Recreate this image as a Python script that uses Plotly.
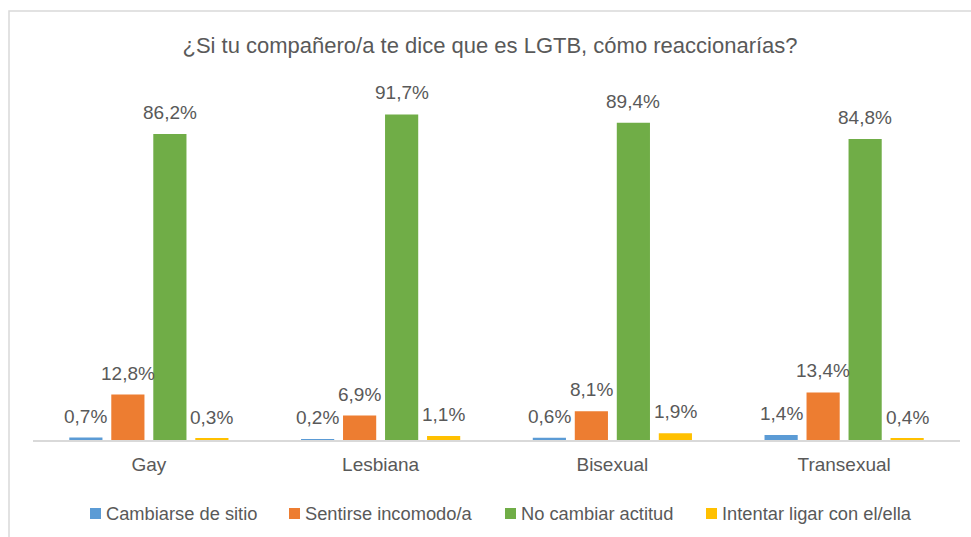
import plotly.graph_objects as go

# Survey results: reaction when a classmate comes out, by identity
categories = ["Gay", "Lesbiana", "Bisexual", "Transexual"]
series_names = ["Cambiarse de sitio", "Sentirse incomodo/a", "No cambiar actitud", "Intentar ligar con el/ella"]
cambiarse = [0.7, 0.2, 0.6, 1.4]
incomodo = [12.8, 6.9, 8.1, 13.4]
no_cambiar = [86.2, 91.7, 89.4, 84.8]
ligar = [0.3, 1.1, 1.9, 0.4]

values = [cambiarse, incomodo, no_cambiar, ligar]
colors = ["#5B9BD5", "#ED7D31", "#70AD47", "#FFC000"]
text_color = "#595959"
font_family = "Liberation Sans, Arial, sans-serif"

W, H = 971, 537
ml, mr, mt, mb = 33, 11, 85, 97
plot_w = W - ml - mr
plot_h = H - mt - mb
bargap = 0.275
bargroupgap = 0.21

fig = go.Figure()
for name, vals, col in zip(series_names, values, colors):
    fig.add_trace(go.Bar(
        x=categories, y=vals, name=name,
        marker=dict(color=col, line=dict(width=0)),
        hoverinfo="skip", showlegend=False,
    ))

# value labels above each bar (pixel offsets of each bar within its group)
cat_w = plot_w / len(categories)
slot = cat_w * (1 - bargap) / len(values)
annotations = []
for i, vals in enumerate(values):
    xshift = (i - (len(values) - 1) / 2) * slot
    for c, v in zip(categories, vals):
        annotations.append(dict(
            x=c, y=v, xref="x", yref="y",
            text=f"{v:.1f}".replace(".", ",") + "%",
            showarrow=False, xshift=xshift, yshift=9,
            yanchor="bottom", xanchor="center",
            font=dict(size=19, color=text_color, family=font_family),
        ))

def px_x(p):
    return (p - ml) / plot_w

def px_y(p):
    return (H - mb - p) / plot_h

# legend drawn as coloured squares with labels in one row under the axis
legend_left = [90, 289, 505, 706]
legend_mid = 513.5
sq = 11
shapes = [dict(
    type="rect", xref="paper", yref="paper",
    x0=px_x(9), x1=px_x(W + 10), y0=px_y(H + 10), y1=px_y(11),
    line=dict(color="#D9D9D9", width=1.5), fillcolor="rgba(0,0,0,0)",
    layer="below",
)]
for left, name, col in zip(legend_left, series_names, colors):
    shapes.append(dict(
        type="rect", xref="paper", yref="paper",
        x0=px_x(left), x1=px_x(left + sq),
        y0=px_y(legend_mid + sq / 2), y1=px_y(legend_mid - sq / 2),
        line=dict(width=0), fillcolor=col,
    ))
    annotations.append(dict(
        x=px_x(left + sq + 3), y=px_y(legend_mid), xref="paper", yref="paper",
        text=name, showarrow=False, xanchor="left", yanchor="middle",
        font=dict(size=18.3, color=text_color, family=font_family),
    ))

fig.update_layout(
    width=W, height=H,
    margin=dict(l=ml, r=mr, t=mt, b=mb, pad=0),
    paper_bgcolor="white", plot_bgcolor="white",
    font=dict(family=font_family, color=text_color, size=19),
    title=dict(
        text="¿Si tu compañero/a te dice que es LGTB, cómo reaccionarías?",
        x=490 / W, xanchor="center", y=1 - 45 / H, yanchor="middle",
        font=dict(size=22, color=text_color, family=font_family),
    ),
    barmode="group", bargap=bargap, bargroupgap=bargroupgap,
    xaxis=dict(
        showline=True, linecolor="#D9D9D9", linewidth=1.5,
        showgrid=False, zeroline=False, ticks="",
        ticklabelstandoff=6,
        tickfont=dict(size=19, color=text_color, family=font_family),
        fixedrange=True,
    ),
    yaxis=dict(
        range=[0, 100], visible=False, showgrid=False, zeroline=False,
        fixedrange=True,
    ),
    showlegend=False,
    annotations=annotations,
    shapes=shapes,
)

fig.write_html("out.html")
